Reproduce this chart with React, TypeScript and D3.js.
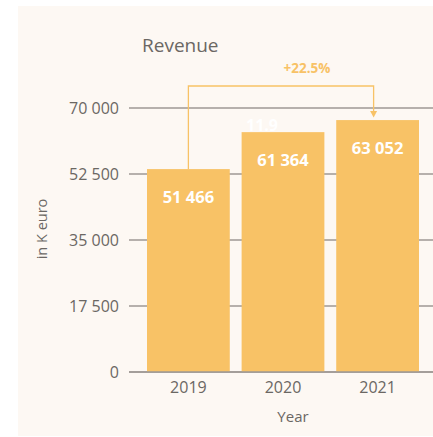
import React from 'react';
import * as d3 from 'd3';

// values (bar heights as drawn) and the printed labels
const years = ['2019', '2020', '2021'];
const barValues = [53800, 63600, 66800];
const valueLabels = ['51 466', '61 364', '63 052'];
const yTicks = [0, 17500, 35000, 52500, 70000];
const growthLabel = '+22.5%';

const W = 433;
const H = 437;
const barColor = '#f8c266';
const textGray = '#6b6763';
const gridGray = '#9e9994';
const font = '"Open Sans", "Noto Sans", sans-serif';

const fmt = (v: number) => d3.format(',')(v).replace(/,/g, ' ');

const App = () => {
    const y = d3.scaleLinear().domain([0, 70000]).range([372, 108]);
    const x = d3.scaleBand().domain(years).range([147, 419]).paddingInner(0.125).paddingOuter(0);
    const bw = x.bandwidth();
    const cx = (yr: string) => (x(yr) ?? 0) + bw / 2;

    const x0 = cx(years[0]);
    const x2 = cx(years[2]) - 4;
    const bracketTop = 86;

    return (
        <svg width={W} height={H} style={{ position: 'fixed', left: 0, top: 0, display: 'block' }}
            fontFamily={font}>
            <rect x={0} y={0} width={W} height={H} fill="#fff" />
            <rect x={18} y={6} width={W - 18} height={430} fill="#fdf8f3" />

            <text x={142} y={52} fontSize={19} fill={textGray}>Revenue</text>

            {/* gridlines + tick labels */}
            {yTicks.map(t => (
                <g key={t}>
                    <line x1={129} x2={W} y1={y(t)} y2={y(t)} stroke={gridGray} strokeWidth={1.4} />
                    <text x={119} y={y(t)} dy="0.35em" textAnchor="end" fontSize={16} fill={textGray}>{fmt(t)}</text>
                </g>
            ))}

            <text transform={`translate(47,229) rotate(-90)`} textAnchor="middle" fontSize={14.5} fill={textGray}>in K euro</text>

            {/* stray label hidden behind the 2020 bar */}
            <text x={262} y={131} textAnchor="middle" fontSize={16} fontWeight={700} fill="#fff">11.9</text>

            {/* bars */}
            {years.map((yr, i) => (
                <g key={yr}>
                    <rect x={x(yr)} y={y(barValues[i])} width={bw} height={y(0) - y(barValues[i])} fill={barColor} />
                    <text x={cx(yr)} y={y(barValues[i]) + 34} textAnchor="middle" fontSize={16.5} fontWeight={700} fill="#fff">{valueLabels[i]}</text>
                    <text x={cx(yr)} y={393} textAnchor="middle" fontSize={16} fill={textGray}>{yr}</text>
                </g>
            ))}
            <line x1={129} x2={W} y1={y(0)} y2={y(0)} stroke={gridGray} strokeWidth={1.4} />

            {/* growth bracket */}
            <path d={`M${x0},${y(barValues[0])}V${bracketTop}H${x2}V${113}`} fill="none" stroke={barColor} strokeWidth={1.3} />
            <path d={`M${x2 - 3.5},${111}L${x2 + 3.5},${111}L${x2},${117.5}Z`} fill={barColor} />
            <text x={307} y={73} textAnchor="middle" fontSize={13.5} fontWeight={700} fill={barColor}>{growthLabel}</text>

            <text x={293} y={422} textAnchor="middle" fontSize={15} fill={textGray}>Year</text>
        </svg>
    );
};

export default App;
